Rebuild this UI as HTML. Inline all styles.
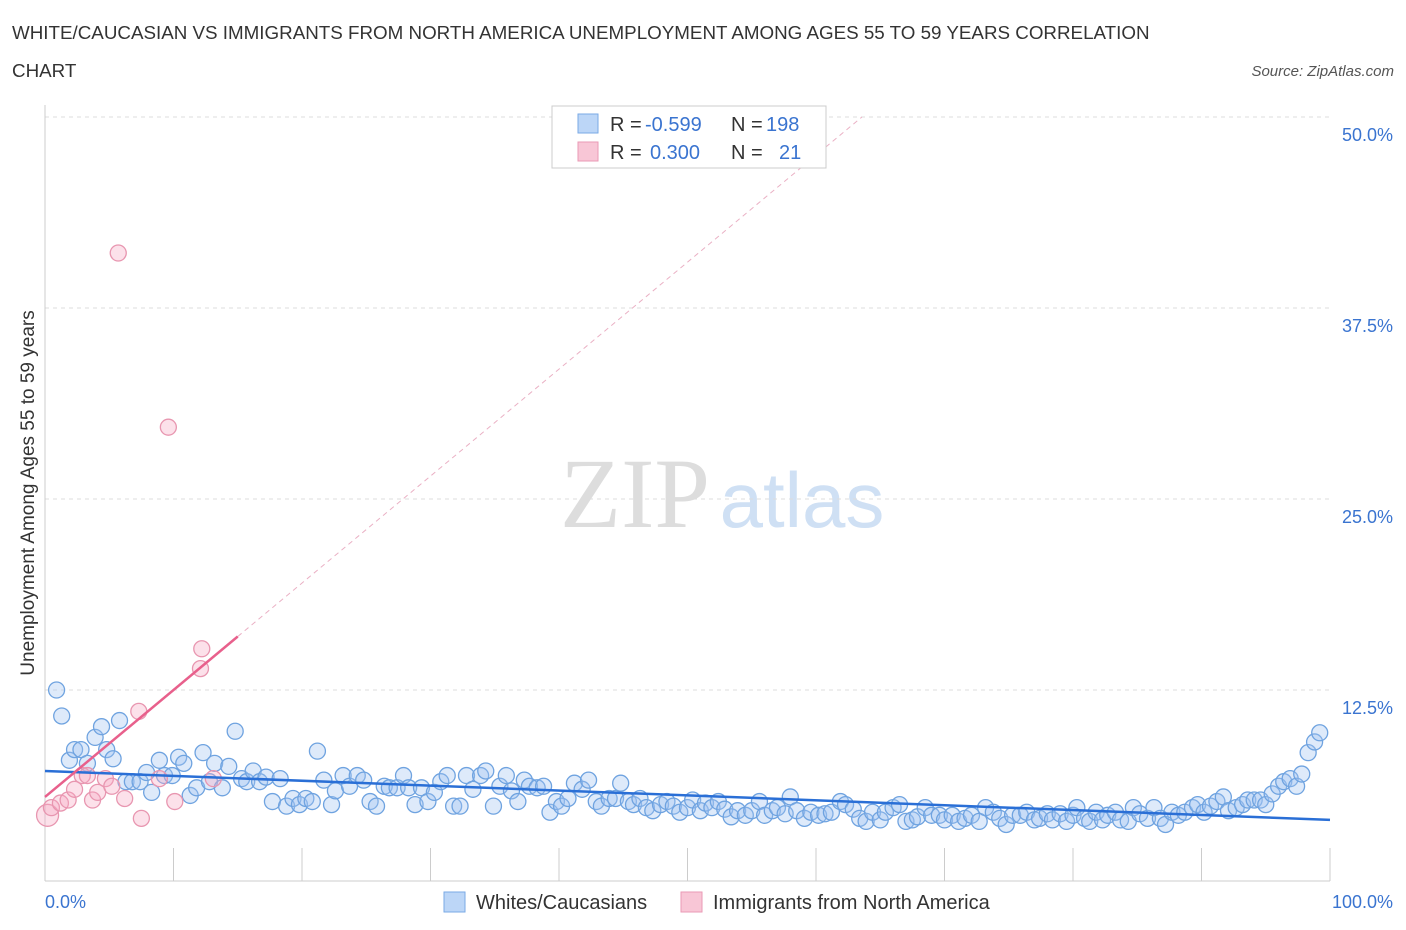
<!DOCTYPE html>
<html><head><meta charset="utf-8"><style>
body{margin:0;background:#fff;font-family:"Liberation Sans",sans-serif;}
svg{display:block}
</style></head><body>
<svg id="chart" width="1406" height="930">
<text x="12" y="39" font-size="18.8" fill="#333">WHITE/CAUCASIAN VS IMMIGRANTS FROM NORTH AMERICA UNEMPLOYMENT AMONG AGES 55 TO 59 YEARS CORRELATION</text>
<text x="12" y="77" font-size="18.8" fill="#333">CHART</text>
<text x="1394" y="76" font-size="15" fill="#555" font-style="italic" text-anchor="end">Source: ZipAtlas.com</text>
<g>
<text x="635" y="527" font-size="100" fill="#ddd" font-family="Liberation Serif,serif" text-anchor="middle">ZIP</text>
<text x="802" y="527" font-size="78" fill="#cfe0f4" text-anchor="middle">atlas</text>
</g>
<g id="grid"></g>
<g id="axes"></g>
<g id="marks"></g>
<g>
<rect x="552" y="106" width="274" height="62" fill="#fff" stroke="#ccc"/>
<rect x="578" y="114" width="20" height="19" fill="#bcd6f7" stroke="#7aaae6"/>
<text x="610" y="131" font-size="20" fill="#333">R =</text>
<text x="645" y="131" font-size="20" fill="#3a74d0">-0.599</text>
<text x="731" y="131" font-size="20" fill="#333">N =</text>
<text x="766" y="131" font-size="20" fill="#3a74d0">198</text>
<rect x="578" y="142" width="20" height="19" fill="#f8c6d6" stroke="#ea9ab5"/>
<text x="610" y="159" font-size="20" fill="#333">R =</text>
<text x="650" y="159" font-size="20" fill="#3a74d0">0.300</text>
<text x="731" y="159" font-size="20" fill="#333">N =</text>
<text x="779" y="159" font-size="20" fill="#3a74d0">21</text>
</g>
<g>
<rect x="444" y="892" width="21" height="20" fill="#bcd6f7" stroke="#7aaae6"/>
<text x="476" y="909" font-size="20" fill="#333">Whites/Caucasians</text>
<rect x="681" y="892" width="21" height="20" fill="#f8c6d6" stroke="#ea9ab5"/>
<text x="713" y="909" font-size="20" fill="#333">Immigrants from North America</text>
</g>
<text x="34" y="493" font-size="19" fill="#333" text-anchor="middle" transform="rotate(-90 34 493)">Unemployment Among Ages 55 to 59 years</text>
</svg>
<script>
const yTicks=[12.5,25,37.5,50];
const yTickLabels=["12.5%","25.0%","37.5%","50.0%"];
const xTickLabels=["0.0%","100.0%"];
const blueX=[0.9,1.3,1.9,2.3,2.8,3.3,3.9,4.4,4.8,5.3,5.8,6.3,6.8,7.4,7.9,8.3,8.9,9.3,9.9,10.4,10.8,11.3,11.8,12.3,12.8,13.2,13.8,14.3,14.8,15.3,15.7,16.2,16.7,17.2,17.7,18.3,18.8,19.3,19.8,20.3,20.8,21.2,21.7,22.3,22.6,23.2,23.7,24.3,24.8,25.3,25.8,26.4,26.8,27.4,27.9,28.3,28.8,29.3,29.8,30.3,30.8,31.3,31.8,32.3,32.8,33.3,33.9,34.3,34.9,35.4,35.9,36.3,36.8,37.3,37.7,38.3,38.8,39.3,39.8,40.2,40.7,41.2,41.8,42.3,42.9,43.3,43.9,44.4,44.8,45.4,45.8,46.3,46.8,47.3,47.9,48.4,48.9,49.4,50.0,50.4,51.0,51.4,51.9,52.4,52.9,53.4,53.9,54.5,55.0,55.6,56.0,56.6,57.0,57.6,58.0,58.5,59.1,59.6,60.2,60.7,61.2,61.9,62.3,62.9,63.4,63.9,64.4,65.0,65.4,66.0,66.5,67.0,67.5,67.9,68.5,69.0,69.6,70.0,70.6,71.1,71.6,72.1,72.7,73.2,73.8,74.3,74.8,75.3,75.9,76.4,77.0,77.4,78.0,78.4,79.0,79.5,80.0,80.3,80.9,81.3,81.8,82.3,82.7,83.3,83.7,84.3,84.7,85.2,85.8,86.3,86.8,87.2,87.7,88.2,88.7,89.3,89.7,90.2,90.7,91.2,91.7,92.1,92.7,93.2,93.6,94.1,94.6,95.0,95.5,96.0,96.4,96.9,97.4,97.8,98.3,98.8,99.2];
const blueY=[12.5,10.8,7.9,8.6,8.6,7.7,9.4,10.1,8.6,8.0,10.5,6.5,6.5,6.5,7.1,5.8,7.9,6.9,6.9,8.1,7.7,5.6,6.1,8.4,6.5,7.7,6.1,7.5,9.8,6.7,6.5,7.2,6.5,6.8,5.2,6.7,4.9,5.4,5.0,5.4,5.2,8.5,6.6,5.0,5.9,6.9,6.2,6.9,6.6,5.2,4.9,6.2,6.1,6.1,6.9,6.1,5.0,6.1,5.2,5.8,6.5,6.9,4.9,4.9,6.9,6.0,6.9,7.2,4.9,6.2,6.9,5.9,5.2,6.6,6.2,6.1,6.2,4.5,5.2,4.9,5.4,6.4,6.0,6.6,5.2,4.9,5.4,5.4,6.4,5.2,5.0,5.4,4.8,4.6,5.0,5.2,4.9,4.5,4.8,5.3,4.6,5.1,4.8,5.2,4.7,4.2,4.6,4.3,4.6,5.2,4.3,4.6,4.8,4.4,5.5,4.6,4.1,4.5,4.3,4.4,4.5,5.2,5.0,4.7,4.1,3.9,4.5,4.0,4.5,4.8,5.0,3.9,4.0,4.2,4.8,4.3,4.3,4.0,4.3,3.9,4.1,4.3,3.9,4.8,4.5,4.1,3.7,4.3,4.3,4.5,4.0,4.1,4.4,4.0,4.4,3.9,4.3,4.8,4.1,3.9,4.5,4.0,4.3,4.5,4.0,3.9,4.8,4.4,4.1,4.8,4.1,3.7,4.5,4.3,4.5,4.8,5.0,4.5,4.9,5.2,5.5,4.6,4.8,5.0,5.3,5.3,5.3,5.0,5.7,6.2,6.5,6.7,6.2,7.0,8.4,9.1,9.7];
const pinkX=[5.7,9.6,12.2,12.1,7.3,0.2,0.5,1.2,1.8,2.3,2.9,3.3,3.7,4.1,4.7,5.2,6.2,7.5,8.9,10.1,13.1];
const pinkY=[41.1,29.7,15.2,13.9,11.1,4.3,4.8,5.1,5.3,6.0,6.9,6.9,5.3,5.8,6.7,6.2,5.4,4.1,6.7,5.2,6.7];
const blueTrend=[7.2,4.0];
const pinkTrend=[5.5,0.7];
const X0=45,X1=1330,Y0=881,YPER=15.28;
const sx=v=>X0+(X1-X0)*v/100, sy=v=>Y0-v*YPER;
const NS="http://www.w3.org/2000/svg";
function mk(tag,attrs,parent){const e=document.createElementNS(NS,tag);for(const k in attrs)e.setAttribute(k,attrs[k]);parent.appendChild(e);return e;}
const grid=document.getElementById('grid'),axes=document.getElementById('axes'),marks=document.getElementById('marks');
yTicks.forEach((t,i)=>{
 const l=mk('line',{x1:X0,x2:X1,y1:sy(t),y2:sy(t),stroke:'#ddd','stroke-dasharray':'4,4'},grid);
 
 
 const tx=mk('text',{x:1393,y:sy(t)+24,'font-size':18,fill:'#3a74d0','text-anchor':'end'},axes);
 tx.textContent=yTickLabels[i];
 
 
});
const ya=mk('line',{x1:X0,x2:X0,y1:105,y2:Y0,stroke:'#ccc'},axes);


const xa=mk('line',{x1:X0,x2:X1,y1:Y0,y2:Y0,stroke:'#ccc'},axes);


for(let i=1;i<=10;i++){
 const t=mk('line',{x1:sx(i*10),x2:sx(i*10),y1:848,y2:Y0,stroke:'#ccc'},axes);
 
 
}
const xl0=mk('text',{x:45,y:908,'font-size':18,fill:'#3a74d0'},axes);xl0.textContent=xTickLabels[0];


const xl1=mk('text',{x:1393,y:908,'font-size':18,fill:'#3a74d0','text-anchor':'end'},axes);xl1.textContent=xTickLabels[1];


blueX.forEach((x,i)=>{
 const c=mk('circle',{cx:sx(x),cy:sy(blueY[i]),r:8,fill:'rgba(160,196,240,0.35)',stroke:'#6fa3e0','stroke-width':1.3},marks);
 
 
});
pinkX.forEach((x,i)=>{
 const c=mk('circle',{cx:sx(x),cy:sy(pinkY[i]),r:i==5?11:8,fill:'rgba(245,170,195,0.35)',stroke:'#e896b0','stroke-width':1.3},marks);
 
 
});
const bt=mk('line',{x1:sx(0),y1:sy(blueTrend[0]),x2:sx(100),y2:sy(blueTrend[1]),stroke:'#2a6fd6','stroke-width':2.5},marks);


const xEnd=(50-pinkTrend[0])/pinkTrend[1];
const pd=mk('line',{x1:sx(15),y1:sy(pinkTrend[0]+pinkTrend[1]*15),x2:sx(xEnd),y2:sy(50),stroke:'#eab0c4','stroke-width':1,'stroke-dasharray':'5,4'},marks);


const pt=mk('line',{x1:sx(0),y1:sy(pinkTrend[0]),x2:sx(15),y2:sy(pinkTrend[0]+pinkTrend[1]*15),stroke:'#e8608c','stroke-width':2.5},marks);


</script>
</body></html>
